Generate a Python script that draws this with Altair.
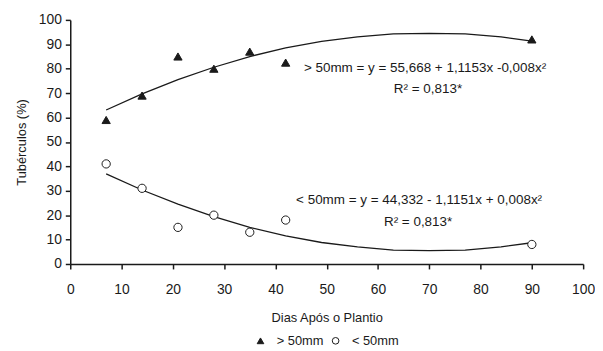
import altair as alt
import pandas as pd

# observed points
dias = [7, 14, 21, 28, 35, 42, 90]
maior50 = [59, 69, 85, 80, 87, 82.5, 92]
menor50 = [41, 31, 15, 20, 13, 18, 8]

# fitted curves
curva_x = [7, 14, 21, 28, 35, 42, 49, 56, 63, 70, 77, 84, 90]
curva_maior = [63.1, 69.7, 75.5, 80.6, 85.0, 88.5, 91.2, 93.0, 94.3, 94.5, 94.3, 93.0, 91.3]
curva_menor = [36.9, 30.3, 24.5, 19.4, 15.0, 11.5, 8.8, 7.0, 5.7, 5.5, 5.7, 7.0, 8.7]

series = ["> 50mm", "< 50mm"]

pts = pd.DataFrame({
    "dias": dias * 2,
    "valor": maior50 + menor50,
    "serie": [series[0]] * len(dias) + [series[1]] * len(dias),
})
cur = pd.DataFrame({
    "dias": curva_x * 2,
    "valor": curva_maior + curva_menor,
    "serie": [series[0]] * len(curva_x) + [series[1]] * len(curva_x),
})

FONT = "Liberation Sans"
INK = "#1a1a1a"

xenc = alt.X("dias:Q", title="Dias Após o Plantio",
             scale=alt.Scale(domain=[0, 100], nice=False),
             axis=alt.Axis(values=list(range(0, 101, 10)), grid=False, labelFlush=False))
yenc = alt.Y("valor:Q", title="Tubérculos (%)",
             scale=alt.Scale(domain=[0, 100], nice=False),
             axis=alt.Axis(values=list(range(0, 101, 10)), grid=False, labelFlush=False))

lines = alt.Chart(cur).mark_line(color=INK, strokeWidth=1.3).encode(
    x=xenc, y=yenc, detail="serie:N"
)

points = alt.Chart(pts).mark_point(filled=True, opacity=1, strokeWidth=1).encode(
    x=xenc, y=yenc,
    shape=alt.Shape("serie:N", title=None,
                    scale=alt.Scale(domain=series, range=["triangle-up", "circle"]),
                    legend=alt.Legend(orient="none", direction="horizontal",
                                      legendX=186, legendY=318)),
    fill=alt.Fill("serie:N", title=None,
                  scale=alt.Scale(domain=series, range=[INK, "white"])),
    stroke=alt.Stroke("serie:N", title=None,
                      scale=alt.Scale(domain=series, range=[INK, INK])),
    size=alt.value(70),
)

ann_txt = [
    "> 50mm = y = 55,668 + 1,1153x  -0,008x²",
    "R² = 0,813*",
    "< 50mm = y = 44,332 - 1,1151x + 0,008x²",
    "R² = 0,813*",
]
ann_layers = []
for t, px, py in zip(ann_txt, [359, 362, 353, 352], [49, 70, 182, 205]):
    ann_layers.append(
        alt.Chart(pd.DataFrame({"t": [t]})).mark_text(
            font=FONT, fontSize=13.6, color=INK, align="center", baseline="middle"
        ).encode(text="t:N", x=alt.value(px), y=alt.value(py))
    )

chart = alt.layer(lines, points, *ann_layers).properties(
    width=519, height=247,
    padding={"left": 7, "top": 3, "right": 0, "bottom": 0},
).configure_view(stroke=None).configure_axis(
    domainColor=INK, domainWidth=1.5, tickColor=INK, tickWidth=1.5, tickSize=5,
    labelFont=FONT, labelFontSize=14, labelColor=INK,
    titleFont=FONT, titleFontSize=13, titleColor=INK, titleFontWeight="normal",
).configure_axisX(
    labelPadding=14, titlePadding=15
).configure_axisY(
    labelPadding=4, titlePadding=10
).configure_legend(
    labelFont=FONT, labelFontSize=13, labelColor=INK,
    symbolStrokeWidth=1, symbolSize=45,
    labelOffset=10, columnPadding=5
)

chart.save("out.html", embed_options={"renderer": "svg", "actions": False})
